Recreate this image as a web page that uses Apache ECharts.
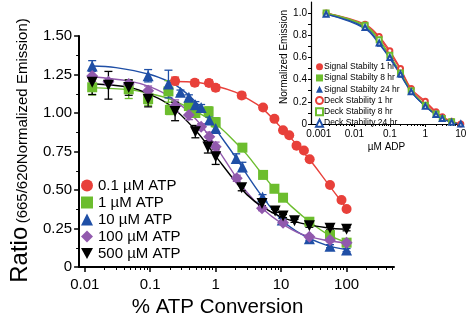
<!DOCTYPE html>
<html><head><meta charset="utf-8">
<script src="https://cdn.jsdelivr.net/npm/echarts@6/dist/echarts.min.js"></script>
<style>html,body{margin:0;padding:0;background:#fff}#c{width:470px;height:323px}</style>
</head><body><div id="c"></div>
<script>
// ---------- main chart data ----------
const mainNames = ['0.1 µM ATP', '1 µM ATP', '10 µM ATP', '100 µM ATP', '500 µM ATP'];
const x01 = [0.24,0.48,0.79,1.0,2.5,5.3,7.9,10.7,13.3,17.2,22.3,27.3,55.8,83.6,100];
const y01 = [1.208,1.197,1.195,1.164,1.114,1.036,0.962,0.888,0.855,0.788,0.757,0.700,0.532,0.435,0.377];
const e01 = [0.025,0.02,0.02,0.02,0.02,0.015,0.01,0.015,0.01,0.01,0.01,0.01,0.01,0.01,0.01];
const fit01X = [0.24,0.5,1,2,3,5,10,20,30,50,100];
const fit01Y = [1.205,1.20,1.175,1.135,1.095,1.035,0.905,0.765,0.675,0.55,0.38];

const x1 = [0.013,0.047,0.093,0.19,0.2,0.39,0.49,0.78,1.0,2.56,5.3,7.9,10.7,27,55.8,100];
const y1 = [1.167,1.154,1.09,1.14,1.02,1.045,1.0,1.01,0.94,0.775,0.598,0.508,0.45,0.294,0.208,0.158];
const e1 = [0.05,0.06,0.04,0.07,0.03,0.02,0.02,0.03,0.03,0.02,0.01,0.01,0.01,0.01,0.01,0.01];
const fit1X = [0.013,0.05,0.1,0.2,0.5,1,2,3,5,10,20,50,100];
const fit1Y = [1.165,1.15,1.125,1.09,1.01,0.93,0.81,0.73,0.61,0.46,0.34,0.215,0.16];

const x10 = [0.013,0.093,0.19,0.29,0.39,0.49,0.6,0.8,1.0,2.06,2.56,5.2,10.4,27,55.8,100];
const y10 = [1.305,1.242,1.188,1.134,1.103,1.054,1.035,0.954,0.90,0.705,0.65,0.455,0.305,0.184,0.135,0.11];
const e10 = [0.035,0.04,0.09,0.015,0.015,0.02,0.02,0.02,0.02,0.03,0.03,0.015,0.01,0.01,0.01,0.01];
const fit10X = [0.013,0.03,0.1,0.2,0.3,0.5,0.8,1,2,3,5,10,20,50,100];
const fit10Y = [1.305,1.295,1.25,1.20,1.155,1.07,0.96,0.895,0.715,0.60,0.465,0.31,0.215,0.14,0.113];

const x100 = [0.013,0.023,0.047,0.093,0.24,0.39,0.6,0.8,1.0,2.1,5.1,10.7,27,55.8,100];
const y100 = [1.24,1.203,1.188,1.145,1.045,0.987,0.911,0.846,0.781,0.576,0.381,0.288,0.197,0.175,0.158];
const e100 = [0.035,0.02,0.02,0.03,0.04,0.03,0.02,0.03,0.03,0.02,0.015,0.01,0.01,0.01,0.01];
const fit100X = [0.013,0.05,0.1,0.2,0.5,1,2,3,5,10,20,50,100];
const fit100Y = [1.235,1.205,1.17,1.105,0.96,0.785,0.59,0.485,0.385,0.285,0.215,0.172,0.157];

const x500 = [0.013,0.023,0.047,0.093,0.24,0.49,0.76,1.0,2.5,5.1,8.1,10.7,16,27,55.8,100];
const y500 = [1.20,1.18,1.165,1.09,1.01,0.879,0.78,0.716,0.515,0.413,0.364,0.331,0.30,0.268,0.251,0.245];
const e500 = [0.08,0.09,0.05,0.05,0.06,0.04,0.04,0.05,0.02,0.015,0.01,0.01,0.01,0.01,0.01,0.01];
const fit500X = [0.013,0.05,0.1,0.2,0.5,1,2,3,5,10,20,50,100];
const fit500Y = [1.19,1.165,1.12,1.05,0.885,0.72,0.555,0.47,0.395,0.325,0.285,0.255,0.245];

const mainXMajor = [0.01,0.1,1,10,100];
const mainXMinor = [0.02,0.03,0.04,0.05,0.06,0.07,0.08,0.09,0.2,0.3,0.4,0.5,0.6,0.7,0.8,0.9,2,3,4,5,6,7,8,9,20,30,40,50,60,70,80,90,200,300,400,500];

// ---------- inset data ----------
const insetNames = ['Signal Stabilty 1 hr','Signal Stabilty 8 hr','Signal Stabilty 24 hr','Deck Stability 1 hr','Deck Stability 8 hr','Deck Stability 24 hr'];
const insetX = [0.0016,0.02,0.05,0.1,0.2,0.4,1,2,3,5.5,10];
const sig1 = [1.0,0.89,0.78,0.64,0.49,0.31,0.19,0.10,0.06,0.02,0.0];
const sig8 = [1.0,0.88,0.75,0.61,0.46,0.30,0.16,0.085,0.05,0.02,-0.005];
const sig24 = [0.99,0.86,0.72,0.59,0.44,0.29,0.16,0.08,0.05,0.015,0.0];
const deck1 = [1.0,0.90,0.79,0.66,0.50,0.32,0.205,0.11,0.065,0.025,0.0];
const deck8 = [1.0,0.89,0.76,0.62,0.46,0.30,0.17,0.09,0.05,0.02,-0.005];
const deck24 = [0.99,0.87,0.73,0.60,0.45,0.29,0.16,0.085,0.05,0.015,0.0];
const insetXMajor = [0.001,0.01,0.1,1,10];
const insetXMinor = [0.002,0.003,0.004,0.005,0.006,0.007,0.008,0.009,0.02,0.03,0.04,0.05,0.06,0.07,0.08,0.09,0.2,0.3,0.4,0.5,0.6,0.7,0.8,0.9,2,3,4,5,6,7,8,9];
const insetYMajor = [0,0.2,0.4,0.6,0.8,1.0];
const insetYMinor = [0.1,0.3,0.5,0.7,0.9];

// ---------- styling ----------
const RED = '#e8403a', GREEN = '#6cbd2e', BLUE = '#1f4fa6', PURPLE = '#9159ad', BLACK = '#000000';
const FONT = 'Liberation Sans, Arial, sans-serif';
const downTri = 'path://M0,0 L10,0 L5,9 Z';

function zip(a, b) { return a.map((v, i) => [v, b[i]]); }
function errData(xs, ys, es) { return xs.map((v, i) => [v, ys[i] - es[i], ys[i] + es[i]]); }
function errRender(color) {
  return function (params, api) {
    const x = api.value(0), lo = api.value(1), hi = api.value(2);
    const p1 = api.coord([x, hi]), p2 = api.coord([x, lo]);
    const w = 4, st = { stroke: color, lineWidth: 1.3 };
    return { type: 'group', children: [
      { type: 'line', shape: { x1: p1[0], y1: p1[1], x2: p2[0], y2: p2[1] }, style: st },
      { type: 'line', shape: { x1: p1[0] - w, y1: p1[1], x2: p1[0] + w, y2: p1[1] }, style: st },
      { type: 'line', shape: { x1: p2[0] - w, y1: p2[1], x2: p2[0] + w, y2: p2[1] }, style: st }
    ] };
  };
}

const mainSets = [
  { name: mainNames[0], x: x01, y: y01, e: e01, fx: fit01X, fy: fit01Y, color: RED, symbol: 'circle', size: 10 },
  { name: mainNames[1], x: x1, y: y1, e: e1, fx: fit1X, fy: fit1Y, color: GREEN, symbol: 'rect', size: 10 },
  { name: mainNames[2], x: x10, y: y10, e: e10, fx: fit10X, fy: fit10Y, color: BLUE, symbol: 'triangle', size: 11 },
  { name: mainNames[3], x: x100, y: y100, e: e100, fx: fit100X, fy: fit100Y, color: PURPLE, symbol: 'diamond', size: 12 },
  { name: mainNames[4], x: x500, y: y500, e: e500, fx: fit500X, fy: fit500Y, color: BLACK, symbol: downTri, size: 11 }
];

const series = [];
mainSets.forEach(s => {
  series.push({ type: 'line', xAxisIndex: 0, yAxisIndex: 0, data: zip(s.fx, s.fy), smooth: 0.4, showSymbol: false,
    lineStyle: { color: s.color, width: 1.4 }, silent: true, z: 2, legendHoverLink: false });
  series.push({ type: 'custom', xAxisIndex: 0, yAxisIndex: 0, data: errData(s.x, s.y, s.e), renderItem: errRender(s.color),
    encode: { x: 0, y: [1, 2] }, z: 3, silent: true });
  series.push({ type: 'scatter', name: s.name, xAxisIndex: 0, yAxisIndex: 0, data: zip(s.x, s.y), symbol: s.symbol,
    symbolSize: s.size, itemStyle: { color: s.color, opacity: 1 }, z: 4 });
});

const insetSets = [
  { name: insetNames[0], y: sig1, color: RED, symbol: 'circle' },
  { name: insetNames[1], y: sig8, color: GREEN, symbol: 'rect' },
  { name: insetNames[2], y: sig24, color: BLUE, symbol: 'triangle' },
  { name: insetNames[3], y: deck1, color: RED, symbol: 'emptyCircle' },
  { name: insetNames[4], y: deck8, color: GREEN, symbol: 'emptyRect' },
  { name: insetNames[5], y: deck24, color: BLUE, symbol: 'emptyTriangle' }
];
insetSets.forEach(s => {
  series.push({ type: 'line', name: s.name, xAxisIndex: 2, yAxisIndex: 1, data: zip(insetX, s.y), smooth: 0.4,
    symbol: s.symbol, symbolSize: 5, showSymbol: true, lineStyle: { color: s.color, width: 1.2 },
    itemStyle: { color: s.color, borderWidth: 1 }, z: 5 });
});

const chart = echarts.init(document.getElementById('c'), null, { renderer: 'canvas' });
chart.setOption({
  animation: false,
  backgroundColor: '#ffffff',
  textStyle: { fontFamily: FONT },
  grid: [
    { left: 65, right: 76, top: 36, bottom: 56 },
    { left: 311, right: 8, top: 2, bottom: 199 }
  ],
  legend: [
    { orient: 'vertical', left: 76, top: 172, itemGap: 0, itemWidth: 12, itemHeight: 12, itemSymbolKeepAspect: true,
      textStyle: { fontSize: 15, color: '#000', lineHeight: 17, fontFamily: FONT },
      data: mainNames.map((n, i) => ({ name: n, icon: mainSets[i].symbol })) },
    { orient: 'vertical', left: 310, top: 56, itemGap: 0, itemWidth: 7, itemHeight: 7, itemSymbolKeepAspect: true,
      textStyle: { fontSize: 8.5, color: '#000', lineHeight: 11.3, fontFamily: FONT, padding: [0, 0, 0, -4] },
      data: insetNames.map((n, i) => ({ name: n, icon: insetSets[i].symbol })) }
  ],
  xAxis: [
    { type: 'log', gridIndex: 0, position: 'bottom', min: 0.0082, max: 530, logBase: 10,
      name: '% ATP Conversion', nameLocation: 'middle', nameGap: 29,
      nameTextStyle: { fontSize: 20.5, color: '#000', fontFamily: FONT, padding: [0, 38, 0, 0] },
      axisLine: { lineStyle: { color: '#000', width: 2 } },
      axisTick: { show: true, length: 5, inside: false, customValues: mainXMajor, lineStyle: { color: '#000', width: 1.5 } },
      axisLabel: { fontSize: 15, color: '#000', margin: 10, customValues: mainXMajor, fontFamily: FONT },
      splitLine: { show: false }, minorTick: { show: false } },
    { type: 'log', gridIndex: 0, position: 'bottom', offset: 0, min: 0.0082, max: 530, logBase: 10,
      axisLine: { show: false },
      axisTick: { show: true, length: 3, customValues: mainXMinor, lineStyle: { color: '#000', width: 1 } },
      axisLabel: { show: false }, splitLine: { show: false } },
    { type: 'log', gridIndex: 1, position: 'bottom', min: 0.0006, max: 10.8, logBase: 10,
      name: 'µM ADP', nameLocation: 'middle', nameGap: 18,
      nameTextStyle: { fontSize: 10, color: '#000', fontFamily: FONT },
      axisLine: { lineStyle: { color: '#000', width: 1.2 } },
      axisTick: { show: true, length: 3, customValues: insetXMajor, lineStyle: { color: '#000' } },
      axisLabel: { fontSize: 10, color: '#000', margin: 5, customValues: insetXMajor, fontFamily: FONT },
      splitLine: { show: false } },
    { type: 'log', gridIndex: 1, position: 'bottom', offset: 0, min: 0.0006, max: 10.8, logBase: 10,
      axisLine: { show: false },
      axisTick: { show: true, length: 2, customValues: insetXMinor, lineStyle: { color: '#000' } },
      axisLabel: { show: false }, splitLine: { show: false } }
  ],
  yAxis: [
    { type: 'value', gridIndex: 0, min: 0, max: 1.5, interval: 0.25,
      name: '{a|Ratio} {b|(665/620Normalized Emission)}', nameLocation: 'middle', nameGap: 45, nameRotate: 90,
      nameTextStyle: { color: '#000', fontFamily: FONT, padding: [0, 0, 0, 2],
        rich: { a: { fontSize: 24, fontFamily: FONT, color: '#000', verticalAlign: 'bottom' },
                b: { fontSize: 15, fontFamily: FONT, color: '#000', verticalAlign: 'bottom', padding: [0, 0, 2, 0] } } },
      axisLine: { show: true, lineStyle: { color: '#000', width: 2 } },
      axisTick: { show: true, length: 5, lineStyle: { color: '#000', width: 1.5 } },
      minorTick: { show: true, splitNumber: 2, length: 3, lineStyle: { color: '#000' } },
      axisLabel: { fontSize: 15, color: '#000', margin: 7, fontFamily: FONT,
        formatter: v => (v === 0 ? '0' : v.toFixed(2)) },
      splitLine: { show: false } },
    { type: 'value', gridIndex: 1, min: 0, max: 1.1,
      name: 'Normalized Emission', nameLocation: 'middle', nameGap: 22, nameRotate: 90,
      nameTextStyle: { fontSize: 10, color: '#000', fontFamily: FONT, padding: [0, 0, 0, 12] },
      axisLine: { show: true, lineStyle: { color: '#000', width: 1.2 } },
      axisTick: { show: true, length: 3, customValues: insetYMajor.concat(insetYMinor), lineStyle: { color: '#000' } },
      axisLabel: { fontSize: 10, color: '#000', margin: 4, customValues: insetYMajor, fontFamily: FONT,
        formatter: v => (v === 0 ? '0' : v.toFixed(1)) },
      splitLine: { show: false } }
  ],
  series: series
});
</script>
</body></html>
